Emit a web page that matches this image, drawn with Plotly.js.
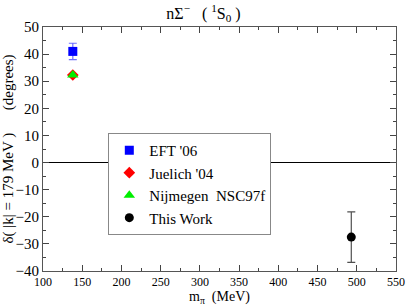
<!DOCTYPE html>
<html><head><meta charset="utf-8">
<script src="https://cdn.plot.ly/plotly-3.0.1.min.js"></script>
<style>html,body{margin:0;padding:0;background:#fff}</style>
</head><body><div id="chart" style="width:407px;height:306px"></div>
<script>
const seriesNames = ["EFT '06", "Juelich '04", "Nijmegen  NSC97f", "This Work"];
const mpi = [138, 138, 138, 493];
const delta = [41, 32.3, 32.3, -27.5];
const errs = [3, 0, 0, 9.3];
const colors = ["#0000ff", "#ff0000", "#00ee00", "#000000"];
const symbols = ["square", "diamond", "triangle-up", "circle"];
const sizes = [9, 9, 10, 9];

const traces = seriesNames.map((n, i) => ({
  type: 'scatter', mode: 'markers', name: n,
  x: [mpi[i]], y: [delta[i]],
  marker: {color: colors[i], symbol: symbols[i], size: sizes[i]},
  error_y: errs[i] > 0 ? {type: 'data', array: [errs[i]], visible: true,
    color: i === 0 ? '#6f6fff' : '#505050', thickness: 1.2, width: 4} : {visible: false}
}));

const F = 'Liberation Serif, Times New Roman, serif';
const layout = {
  width: 407, height: 306,
  margin: {l: 43, r: 11, t: 27, b: 35},
  font: {family: F, size: 14, color: '#000'},
  title: {text: 'nΣ<sup>−</sup>   ( <sup>1</sup>S<sub>0</sub> )', x: 0.5, y: 0.975, yanchor: 'top', font: {size: 16, family: F}},
  showlegend: true,
  legend: {x: 0.185, y: 0.566, xanchor: 'left', yanchor: 'top', bgcolor: '#fff',
    bordercolor: '#888', borderwidth: 1, font: {size: 15, family: F}, itemwidth: 30},
  xaxis: {range: [100, 550], dtick: 50, tick0: 100, ticks: 'inside', ticklen: 6,
    showline: true, linecolor: '#555', mirror: 'ticks', showgrid: false, zeroline: false,
    tickfont: {size: 12, family: F},
    minor: {dtick: 25, ticks: 'inside', ticklen: 3, showgrid: false},
    title: {text: 'm<sub>π</sub>  (MeV)', standoff: 3, font: {size: 14, family: F}}},
  yaxis: {range: [-40, 50], dtick: 10, ticks: 'inside', ticklen: 6,
    showline: true, linecolor: '#555', mirror: 'ticks', showgrid: false,
    zeroline: true, zerolinecolor: '#000', zerolinewidth: 1,
    tickfont: {size: 15, family: F},
    minor: {dtick: 5, ticks: 'inside', ticklen: 3, showgrid: false},
    title: {text: 'δ( |k| = 179 MeV )      (degrees)', standoff: 2, font: {size: 15, family: F}}},
  plot_bgcolor: '#fff', paper_bgcolor: '#fff'
};
Plotly.newPlot('chart', traces, layout, {displayModeBar: false, staticPlot: true});
</script></body></html>
